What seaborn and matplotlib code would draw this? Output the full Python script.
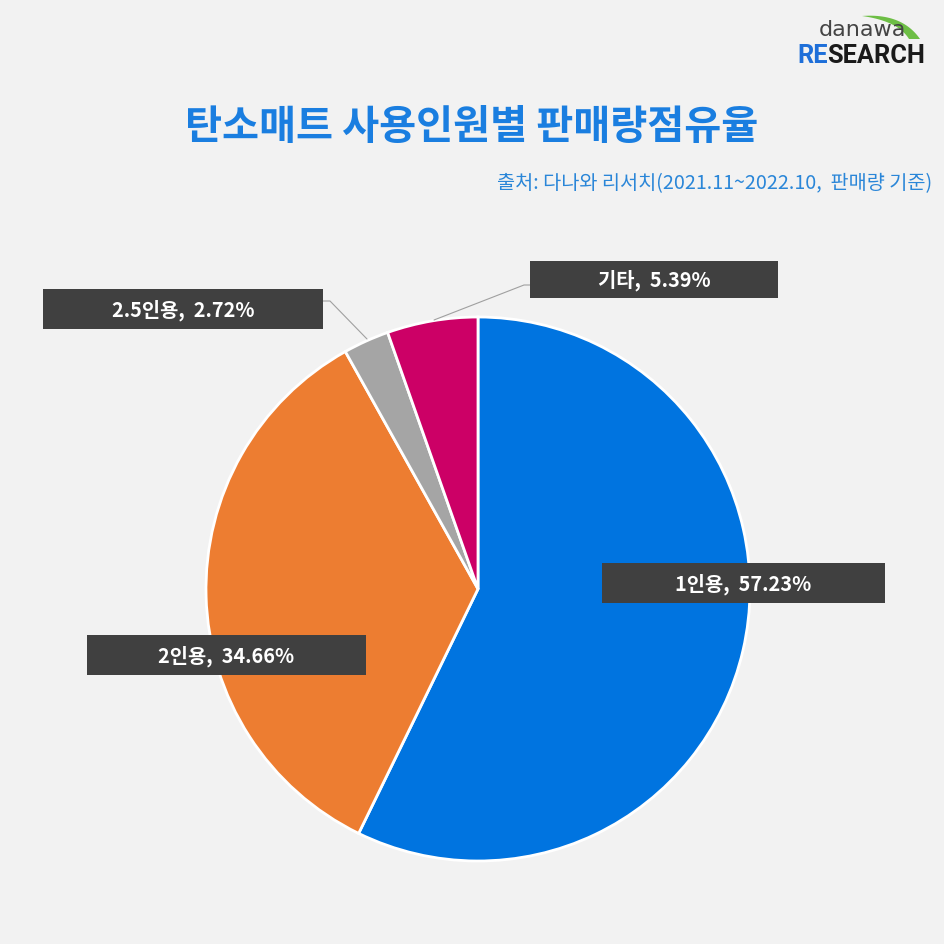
import matplotlib
matplotlib.use("Agg")
import matplotlib.pyplot as plt
import seaborn as sns
import numpy as np
from matplotlib.patches import Rectangle, Polygon

categories = ["1인용", "2인용", "2.5인용", "기타"]
shares = [57.23, 34.66, 2.72, 5.39]
colors = ["#0074E0", "#ED7D31", "#A5A5A5", "#CC0066"]
title = "탄소매트 사용인원별 판매량점유율"
source = "출처: 다나와 리서치(2021.11~2022.10,  판매량 기준)"

sns.set_theme(style="white")
plt.rcParams['font.family'] = ['Noto Sans CJK KR', 'DejaVu Sans']
BG = "#F2F2F2"

W = H = 945
fig = plt.figure(figsize=(9.45, 9.45), dpi=100, facecolor=BG)
ax = fig.add_axes([0, 0, 1, 1])
ax.set_facecolor(BG)

def Y(y):
    return H - y

cx, cy, r = 478, 590, 272
wedges, _ = ax.pie(shares, colors=colors, startangle=90, counterclock=False,
                   center=(cx, Y(cy)), radius=r,
                   wedgeprops=dict(edgecolor="white", linewidth=2))
ax.set_xlim(0, W)
ax.set_ylim(0, H)
ax.set_aspect("equal")
ax.axis("off")

# label boxes: (x0, y0, x1, y1) in pixel coordinates (top-left origin)
boxes = {
    "1인용": (602, 564, 885, 604),
    "2인용": (87, 636, 366, 676),
    "2.5인용": (43, 290, 323, 330),
    "기타": (530, 262, 778, 299),
}
for cat, val in zip(categories, shares):
    x0, y0, x1, y1 = boxes[cat]
    ax.add_patch(Rectangle((x0, Y(y1)), x1 - x0, y1 - y0, facecolor="#404040",
                           edgecolor="none", zorder=5))
    ax.text((x0 + x1) / 2, Y((y0 + y1) / 2), f"{cat},  {val:.2f}%", color="white",
            fontsize=14.3, fontweight="bold", ha="center", va="center", zorder=6)

# leader lines
ax.plot([323, 330, 367], [Y(302), Y(302), Y(340)], color="#A0A0A0", lw=0.8, zorder=4)
ax.plot([530, 524, 434], [Y(286), Y(286), Y(321)], color="#A0A0A0", lw=0.8, zorder=4)

# title and source
ax.text(472, Y(128), title, color="#1A7EE0", fontsize=29, fontweight="bold",
        ha="center", va="center")
ax.text(932, Y(184), source, color="#2A86D8", fontsize=14.2, ha="right", va="center")

# logo
t = np.linspace(0, 1, 30)
def bez(p0, p1, p2):
    p0, p1, p2 = map(np.array, (p0, p1, p2))
    return ((1 - t)[:, None] ** 2 * p0 + 2 * ((1 - t) * t)[:, None] * p1 + (t ** 2)[:, None] * p2)
outer = bez((862, 17), (902, 14), (920, 40))
inner = bez((862, 17), (898, 22), (909, 40))
pts = np.vstack([outer, inner[::-1]])
pts[:, 1] = H - pts[:, 1]
ax.add_patch(Polygon(pts, closed=True, facecolor="#6DBE45", edgecolor="none"))
ax.text(862, Y(30), "danawa", color="#444444", fontsize=16, ha="center", va="center",
        family=["DejaVu Sans"])
ax.text(828, Y(56), "RE", color="#1E6FD9", fontsize=18.3, fontweight="bold",
        ha="right", va="center", family=["Roboto", "DejaVu Sans"])
ax.text(827, Y(56), "SEARCH", color="#1A1A1A", fontsize=18.3, fontweight="bold",
        ha="left", va="center", family=["Roboto", "DejaVu Sans"])

fig.savefig("out.png", dpi=100, facecolor=BG)
